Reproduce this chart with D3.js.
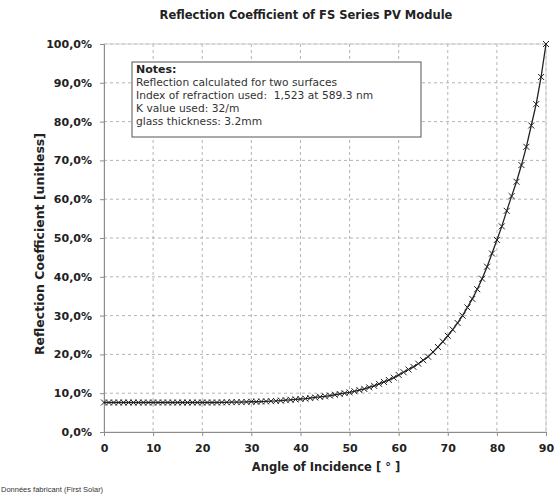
<!DOCTYPE html>
<html>
<head>
<meta charset="utf-8">
<script src="https://cdn.jsdelivr.net/npm/d3@7"></script>
<style>
  body { margin: 0; background: #fff; }
  svg { display: block; }
</style>
</head>
<body>
<div id="chart-area"></div>
<script>
const MARGIN = { LEFT: 104, RIGHT: 9, TOP: 44, BOTTOM: 67 }
const W = 555
const H = 499
const WIDTH = W - MARGIN.LEFT - MARGIN.RIGHT
const HEIGHT = H - MARGIN.TOP - MARGIN.BOTTOM

// data: angle (deg) and reflection coefficient (%)
const angles = d3.range(0, 91)
const reflection = [
  7.6, 7.6, 7.6, 7.6, 7.6, 7.6, 7.6, 7.6, 7.6, 7.6, 7.6,
  7.6, 7.6, 7.6, 7.6, 7.6, 7.6, 7.6, 7.6, 7.6, 7.6,
  7.6, 7.6, 7.6, 7.65, 7.65, 7.7, 7.7, 7.7, 7.75, 7.8,
  7.8, 7.85, 7.9, 7.95, 8.0, 8.1, 8.2, 8.3, 8.4, 8.5,
  8.6, 8.75, 8.9, 9.05, 9.2, 9.4, 9.6, 9.8, 10.0, 10.2,
  10.5, 10.8, 11.1, 11.5, 11.9, 12.4, 12.9, 13.4, 14.0, 14.7,
  15.4, 16.1, 16.8, 17.6, 18.5, 19.4, 20.6, 21.9, 23.3, 24.8,
  26.4, 28.1, 30.0, 32.1, 34.3, 36.8, 39.5, 42.6, 46.0, 49.5,
  53.0, 57.0, 60.8, 64.5, 68.8, 73.5, 79.0, 84.5, 91.5, 100
]
const xTicks = [0, 10, 20, 30, 40, 50, 60, 70, 80, 90]
const yTicks = [0, 10, 20, 30, 40, 50, 60, 70, 80, 90, 100]
const notes = [
  'Reflection calculated for two surfaces',
  'Index of refraction used:  1,523 at 589.3 nm',
  'K value used: 32/m',
  'glass thickness: 3.2mm'
]

const data = angles.map((a, i) => ({ angle: a, r: reflection[i] }))

const svg = d3.select('#chart-area').append('svg')
  .attr('width', W)
  .attr('height', H)
  .style('font-family', '"DejaVu Sans", sans-serif')

const g = svg.append('g')
  .attr('transform', `translate(${MARGIN.LEFT}, ${MARGIN.TOP})`)

// SCALES
const x = d3.scaleLinear().domain([0, 90]).range([0, WIDTH])
const y = d3.scaleLinear().domain([0, 100]).range([HEIGHT, 0])

// GRID
g.append('g').selectAll('line')
  .data(yTicks.slice(1))
  .enter().append('line')
  .attr('x1', 0).attr('x2', WIDTH)
  .attr('y1', d => y(d)).attr('y2', d => y(d))
  .attr('stroke', '#b4b4b4')
  .attr('stroke-dasharray', '3,3')
g.append('g').selectAll('line')
  .data(xTicks.slice(1))
  .enter().append('line')
  .attr('x1', d => x(d)).attr('x2', d => x(d))
  .attr('y1', 0).attr('y2', HEIGHT)
  .attr('stroke', '#b4b4b4')
  .attr('stroke-dasharray', '3,3')

// frame top / right
g.append('rect')
  .attr('width', WIDTH).attr('height', HEIGHT)
  .attr('fill', 'none')
  .attr('stroke', '#d0d0d0')

// AXES
const xAxis = d3.axisBottom(x)
  .tickValues(xTicks)
  .tickSize(4)
  .tickPadding(8)
g.append('g')
  .attr('class', 'x axis')
  .attr('transform', `translate(0, ${HEIGHT})`)
  .call(xAxis)

const yAxis = d3.axisLeft(y)
  .tickValues(yTicks)
  .tickSize(4)
  .tickPadding(8)
  .tickFormat(d => d.toFixed(1).replace('.', ',') + '%')
g.append('g')
  .attr('class', 'y axis')
  .call(yAxis)

g.selectAll('.axis path, .axis line')
  .attr('stroke', '#8c8c8c')
g.selectAll('.axis text')
  .attr('font-family', '"DejaVu Sans", sans-serif')
  .attr('font-size', '11px')
  .attr('font-weight', 'bold')
  .attr('fill', '#222')

// LINE + MARKERS
const line = d3.line()
  .x(d => x(d.angle))
  .y(d => y(d.r))
g.append('path')
  .datum(data)
  .attr('fill', 'none')
  .attr('stroke', '#222')
  .attr('stroke-width', 1.3)
  .attr('d', line)

const s = 3
g.append('g').selectAll('path')
  .data(data)
  .enter().append('path')
  .attr('d', d => {
    const px = x(d.angle), py = y(d.r)
    return `M${px - s},${py - s}L${px + s},${py + s}M${px - s},${py + s}L${px + s},${py - s}`
  })
  .attr('stroke', '#222')
  .attr('stroke-width', 1)

// NOTES BOX
const nb = svg.append('g').attr('transform', 'translate(132, 62)')
nb.append('rect')
  .attr('width', 289).attr('height', 75)
  .attr('fill', '#fff')
  .attr('stroke', '#555')
  .attr('stroke-width', 1)
nb.append('text')
  .attr('x', 4).attr('y', 11)
  .attr('font-size', '11px')
  .attr('font-weight', 'bold')
  .attr('fill', '#222')
  .text('Notes:')
nb.selectAll('.note')
  .data(notes)
  .enter().append('text')
  .attr('class', 'note')
  .attr('x', 4)
  .attr('y', (d, i) => 24 + i * 13)
  .attr('font-size', '10.7px')
  .attr('fill', '#333')
  .style('white-space', 'pre')
  .text(d => d)

// TITLES
svg.append('text')
  .attr('x', 306).attr('y', 19)
  .attr('text-anchor', 'middle')
  .attr('font-size', '11.5px')
  .attr('font-weight', 'bold')
  .attr('fill', '#222')
  .text('Reflection Coefficient of FS Series PV Module')

svg.append('text')
  .attr('x', 326).attr('y', 471)
  .attr('text-anchor', 'middle')
  .attr('font-size', '11.5px')
  .attr('font-weight', 'bold')
  .attr('fill', '#222')
  .style('white-space', 'pre')
  .text('Angle of Incidence [ ° ]')

svg.append('text')
  .attr('transform', 'translate(44, 244) rotate(-90)')
  .attr('text-anchor', 'middle')
  .attr('font-size', '12.5px')
  .attr('font-weight', 'bold')
  .attr('fill', '#222')
  .text('Reflection Coefficient [unitless]')

svg.append('text')
  .attr('x', 1).attr('y', 492)
  .attr('font-family', '"Liberation Sans", sans-serif')
  .attr('font-size', '7.5px')
  .attr('fill', '#333')
  .text('Données fabricant (First Solar)')
</script>
</body>
</html>
